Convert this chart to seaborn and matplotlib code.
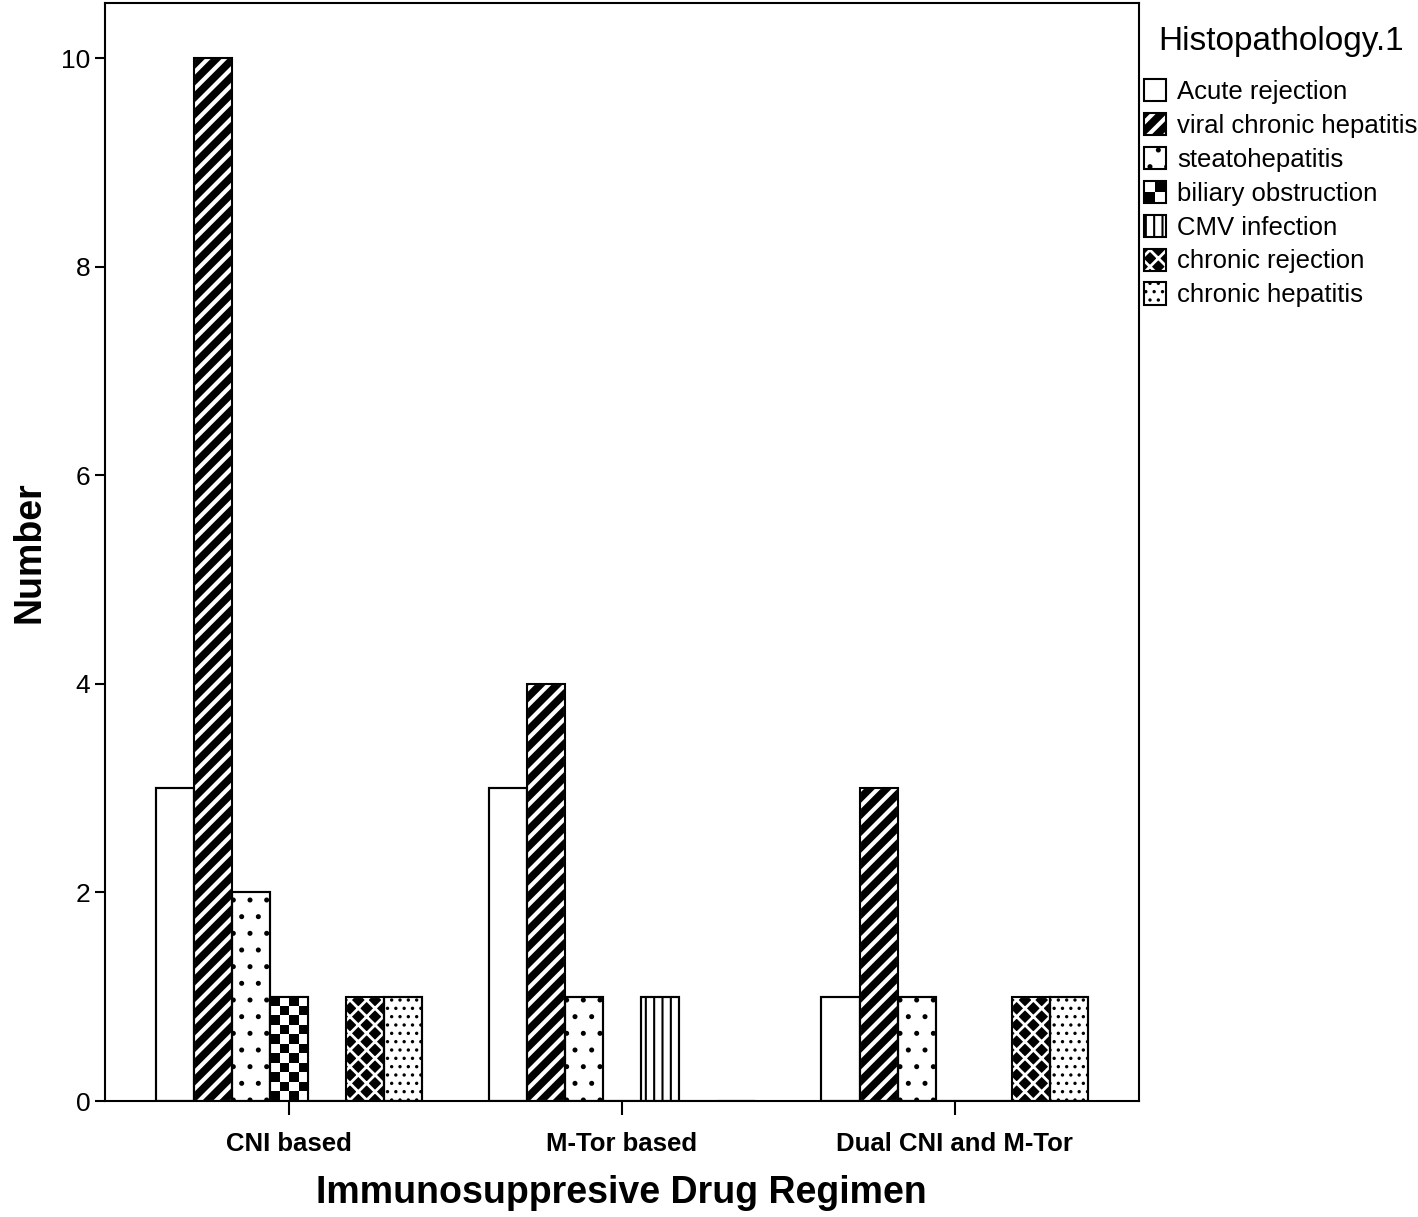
import numpy as np
import pandas as pd
import seaborn as sns
import matplotlib.pyplot as plt
from matplotlib.patches import Patch, Rectangle
from matplotlib.legend_handler import HandlerBase

regimens = ['CNI based', 'M-Tor based', 'Dual CNI and M-Tor']
histology = ['Acute rejection', 'viral chronic hepatitis', 'steatohepatitis',
             'biliary obstruction', 'CMV infection', 'chronic rejection',
             'chronic hepatitis']
cni_counts = [3, 10, 2, 1, 0, 1, 1]
mtor_counts = [3, 4, 1, 0, 1, 0, 0]
dual_counts = [1, 3, 1, 0, 0, 1, 1]

# fill / hatch / hatch colour / hatch width for each histology level
styles = {
    'Acute rejection':         dict(face='white', hatch=None, hcol='black', hlw=1.0, checker=False),
    'viral chronic hepatitis': dict(face='black', hatch='//', hcol='white', hlw=3.0, checker=False),
    'steatohepatitis':         dict(face='white', hatch='.', hcol='black', hlw=1.2, checker=False),
    'biliary obstruction':     dict(face='white', hatch=None, hcol='black', hlw=1.0, checker=True),
    'CMV infection':           dict(face='white', hatch='||', hcol='black', hlw=1.5, checker=False),
    'chronic rejection':       dict(face='black', hatch='xx', hcol='white', hlw=2.0, checker=False),
    'chronic hepatitis':       dict(face='white', hatch='..', hcol='black', hlw=1.2, checker=False),
}

rows = []
for reg, counts in zip(regimens, [cni_counts, mtor_counts, dual_counts]):
    for h, c in zip(histology, counts):
        rows.append({'regimen': reg, 'histology': h, 'count': c})
df = pd.DataFrame(rows)

sns.set_theme(style='ticks')
plt.rcParams['font.family'] = ['Liberation Sans', 'DejaVu Sans']
plt.rcParams['text.color'] = 'black'
plt.rcParams['axes.labelcolor'] = 'black'
plt.rcParams['xtick.color'] = 'black'
plt.rcParams['ytick.color'] = 'black'
plt.rcParams['hatch.linewidth'] = 2.0


def set_hlw(p, lw):
    if hasattr(p, 'set_hatch_linewidth'):
        p.set_hatch_linewidth(lw)


fig = plt.figure(figsize=(14.18, 12.17), dpi=100)
ax = fig.add_axes([0.074, 0.0953, 0.729, 0.9022])

sns.barplot(data=df, x='regimen', y='count', hue='histology', order=regimens,
            hue_order=histology, palette=['white'] * len(histology),
            edgecolor='black', linewidth=1.5, saturation=1, legend=False, ax=ax)

for lvl, cont in zip(histology, ax.containers):
    st = styles[lvl]
    for p in cont.patches:
        h = p.get_height()
        x0, w = p.get_x(), p.get_width()
        p.set_facecolor(st['face'])
        if st['hatch']:
            p.set_hatch(st['hatch'])
            p.set_edgecolor(st['hcol'])
            set_hlw(p, st['hlw'])
        if st['checker'] and h > 0:
            nr = int(round(h * 11))
            board = np.indices((nr, 4)).sum(axis=0) % 2
            im = ax.imshow(board, cmap='gray', interpolation='nearest', aspect='auto',
                           extent=(x0, x0 + w, 0, h), zorder=p.get_zorder() + 0.1)
            im.set_clip_path(p)
        # black outline on top
        ax.add_patch(Rectangle((x0, 0), w, h, fill=False, edgecolor='black',
                               linewidth=1.5, zorder=p.get_zorder() + 0.2))


class TileHandler(HandlerBase):
    def __init__(self, st):
        super().__init__()
        self.st = st

    def create_artists(self, legend, orig_handle, xdescent, ydescent, width, height,
                       fontsize, trans):
        s = min(width, height)
        x0, y0 = -xdescent, -ydescent + (height - s) / 2
        st = self.st
        arts = []
        if st['checker']:
            for i in range(2):
                for j in range(2):
                    c = 'black' if (i + j) % 2 == 0 else 'white'
                    arts.append(Rectangle((x0 + i * s / 2, y0 + j * s / 2), s / 2, s / 2,
                                          facecolor=c, edgecolor='none', transform=trans))
        else:
            r = Rectangle((x0, y0), s, s, facecolor=st['face'], edgecolor=st['hcol'],
                          hatch=st['hatch'], linewidth=0, transform=trans)
            set_hlw(r, st['hlw'])
            arts.append(r)
        arts.append(Rectangle((x0, y0), s, s, fill=False, edgecolor='black',
                              linewidth=1.5, transform=trans))
        return arts


handles = [Patch(label=h) for h in histology]
hmap = {hd: TileHandler(styles[h]) for hd, h in zip(handles, histology)}
leg = ax.legend(handles=handles, handler_map=hmap, title='Histopathology.1',
                loc='upper left', bbox_to_anchor=(1.0, 0.984), frameon=False,
                fontsize=18.5, title_fontsize=24, handlelength=0.95, handleheight=0.95,
                handletextpad=0.35, labelspacing=0.35, borderaxespad=0.0, borderpad=0.2)
# a bit more room under the legend title
leg._legend_box.sep = 16

ax.set_xlim(-0.553, 2.553)
ax.set_ylim(0, 10.53)
ax.set_yticks([0, 2, 4, 6, 8, 10])
ax.tick_params(axis='y', labelsize=19, width=1.5, length=7)
ax.tick_params(axis='x', labelsize=18.5, width=1.5, length=10, pad=12)
for lab in ax.get_xticklabels():
    lab.set_fontweight('bold')
for sp in ax.spines.values():
    sp.set_visible(True)
    sp.set_linewidth(1.5)
    sp.set_color('black')

ax.set_xlabel('Immunosuppresive Drug Regimen', fontsize=27, fontweight='bold', labelpad=14)
ax.set_ylabel('Number', fontsize=27, fontweight='bold', labelpad=10)

fig.savefig('out.png', dpi=100)
